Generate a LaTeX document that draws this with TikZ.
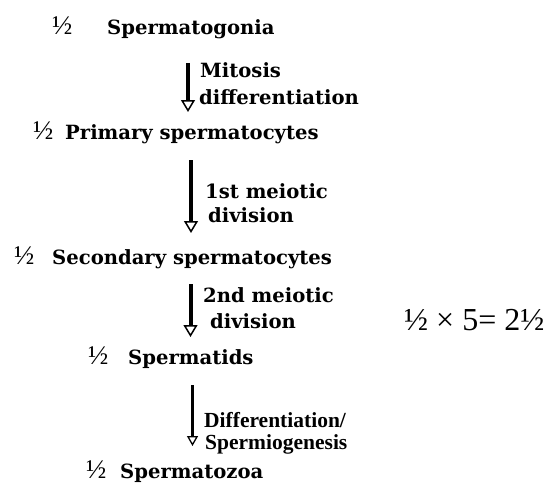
\documentclass[tikz,border=0pt]{standalone}
\usepackage{fontspec}
\setmainfont{Liberation Serif}
\newfontfamily\stagefont{DejaVu Serif}
\usetikzlibrary{arrows.meta}

\begin{document}
\begin{tikzpicture}[
  x=1pt,y=1pt,
  stage/.style={font=\stagefont\bfseries\fontsize{19.6}{22}\selectfont,anchor=base west,inner sep=0pt},
  half/.style={font=\fontsize{27}{29}\selectfont,anchor=base west,inner sep=0pt},
  note/.style={font=\stagefont\bfseries\fontsize{19.6}{22}\selectfont,anchor=base west,inner sep=0pt},
  lightnote/.style={note,font=\bfseries\fontsize{21.5}{23}\selectfont},
  arr/.style={-{Triangle[open,length=12pt,width=14pt,line width=1.5pt]},line width=4pt},
  thinarr/.style={-{Triangle[open,length=10pt,width=11pt,line width=1.3pt]},line width=3pt},
]
\fill[white] (0,0) rectangle (545,-484);
\useasboundingbox (0,0) rectangle (545,-484);

% ---------- stages ----------
\node[half]  (h1) at (52,-35) {½};
\node[stage] (sgonia) at (107,-35) {Spermatogonia};
\node[half]  (h2) at (33,-139) {½};
\node[stage] (primary) at (65,-139) {Primary spermatocytes};
\node[half]  (h3) at (14,-264) {½};
\node[stage] (secondary) at (52,-264) {Secondary spermatocytes};
\node[half]  (h4) at (88,-364) {½};
\node[stage] (tids) at (128,-364) {Spermatids};
\node[half]  (h5) at (86,-478) {½};
\node[stage] (zoa) at (120,-478) {Spermatozoa};

% ---------- arrows between stages ----------
\coordinate (a1top) at (188,-63);  \coordinate (a1end) at (188,-112);
\coordinate (a2top) at (191,-160); \coordinate (a2end) at (191,-233);
\coordinate (a3top) at (190.5,-284); \coordinate (a3end) at (190.5,-337);
\coordinate (a4top) at (192.5,-385); \coordinate (a4end) at (192.5,-446);
\draw[arr] (a1top) -- (a1end);
\draw[arr] (a2top) -- (a2end);
\draw[arr] (a3top) -- (a3end);
\draw[thinarr] (a4top) -- (a4end);

% ---------- process labels ----------
\node[note] (mitosisA) at (200,-78) {Mitosis};
\node[note] (mitosisB) at (199,-104) {differentiation};
\node[note] (meioticA) at (205,-198) {1st meiotic};
\node[note] (meioticB) at (208,-222) {division};
\node[note] (meioticC) at (203,-302) {2nd meiotic};
\node[note] (meioticD) at (210,-328) {division};
\node[lightnote] (spermioA) at (204,-427) {Differentiation/};
\node[lightnote] (spermioB) at (205,-449) {Spermiogenesis};

% ---------- marks total ----------
\node[anchor=base west,inner sep=0pt,font=\fontsize{32}{34}\selectfont] (total) at (404,-330) {½ × 5= 2½};
\end{tikzpicture}
\end{document}
